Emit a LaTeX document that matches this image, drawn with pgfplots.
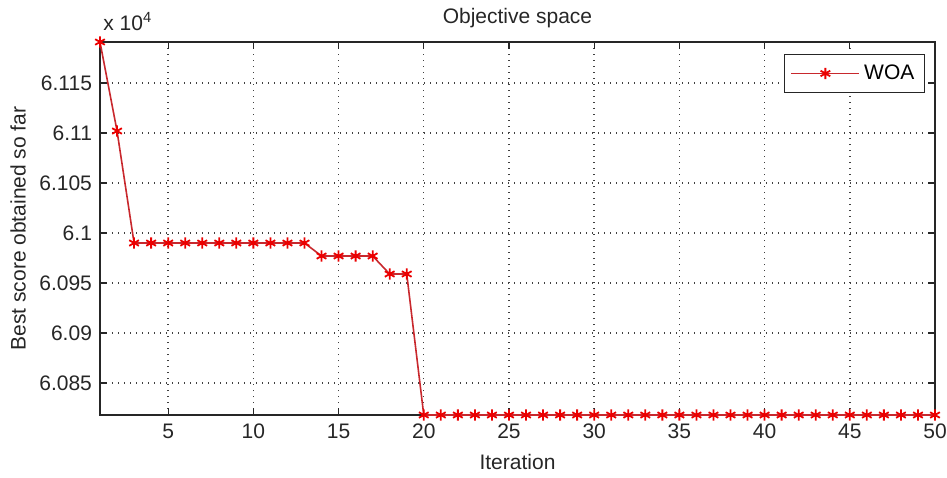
\documentclass[border=0pt]{standalone}
\usepackage{pgfplots}
\pgfplotsset{compat=1.18}
\usepackage{fontspec}
\setmainfont{Liberation Sans}
\definecolor{woaline}{RGB}{200,40,45}
\definecolor{woamark}{RGB}{235,0,0}
\begin{document}
\begin{tikzpicture}
\useasboundingbox (-50pt,-31pt) rectangle (423.5pt,207.5pt);
\begin{axis}[
  scale only axis,
  width=417.5pt, height=186.5pt,
  xmin=1, xmax=50,
  ymin=60818, ymax=61191,
  xtick={5,10,...,50},
  ytick={60850,60900,60950,61000,61050,61100,61150},
  yticklabels={6.085,6.09,6.095,6.1,6.105,6.11,6.115},
  /pgf/number format/assume math mode=true,
  scaled y ticks=false,
  tick align=inside,
  major tick length=3.5pt,
  axis line style={black!85, line width=0.65pt},
  tick style={black!85, line width=0.65pt},
  grid=major,
  grid style={dash pattern=on 0.7pt off 2.3pt, black!75, line width=0.7pt},
  tick label style={font=\fontsize{10.5}{12.6}\selectfont, text=black!85},
  xticklabel style={yshift=-1pt},
  yticklabel style={xshift=-0.5pt},
  label style={font=\fontsize{10.5}{12.6}\selectfont, text=black!85},
  xlabel={Iteration},
  ylabel={Best score obtained so far},
  xlabel style={at={([yshift=-23.5pt]axis description cs:0.5,0)}, anchor=center},
  ylabel style={at={([xshift=-41pt]axis description cs:0,0.5)}, anchor=center, rotate=0},
  title={Objective space},
  every axis title shift=0pt,
  title style={font=\fontsize{10.5}{12.6}\selectfont, text=black!85, at={([yshift=12pt]axis description cs:0.5,1)}, anchor=center},
  clip=false,
  legend style={at={(rel axis cs:1,1)}, anchor=north east, xshift=-5pt, yshift=-6pt,
    draw=black!85, line width=0.65pt, font=\fontsize{10.5}{12.6}\selectfont, inner xsep=3pt, inner ysep=3pt},
  legend image code/.code={\draw[mark repeat=2,mark phase=2] plot coordinates {(0pt,0pt) (17pt,0pt) (34pt,0pt)};},
]
\addplot[color=woaline, line width=0.8pt, mark=asterisk, mark size=2.8pt, mark options={color=woamark, solid, line width=0.9pt}]
coordinates {
(1,61191) (2,61102) (3,60990) (4,60990) (5,60990) (6,60990) (7,60990) (8,60990) (9,60990) (10,60990)
(11,60990) (12,60990) (13,60990) (14,60977) (15,60977) (16,60977) (17,60977) (18,60959) (19,60959) (20,60818)
(21,60818) (22,60818) (23,60818) (24,60818) (25,60818) (26,60818) (27,60818) (28,60818) (29,60818) (30,60818)
(31,60818) (32,60818) (33,60818) (34,60818) (35,60818) (36,60818) (37,60818) (38,60818) (39,60818) (40,60818)
(41,60818) (42,60818) (43,60818) (44,60818) (45,60818) (46,60818) (47,60818) (48,60818) (49,60818) (50,60818)
};
\addlegendentry{WOA}
\node[anchor=west, font=\fontsize{10.5}{12.6}\selectfont, text=black!85, inner sep=0pt] at ([xshift=1.5pt,yshift=10pt]rel axis cs:0,1) {x 10\textsuperscript{4}};
\end{axis}
\end{tikzpicture}
\end{document}
